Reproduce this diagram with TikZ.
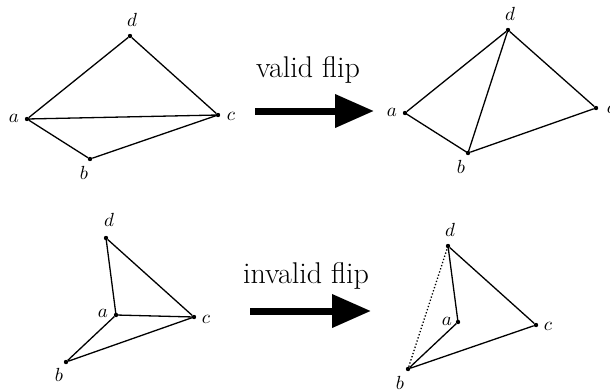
\documentclass[tikz,border=0pt]{standalone}
\usepackage{graphicx}
\usetikzlibrary{arrows.meta}
\newcommand{\vlab}[1]{\scalebox{1.9}{$#1$}}
\begin{document}
\begin{tikzpicture}[x=1pt,y=-1pt,
  dot/.style={circle,fill=black,inner sep=0pt,minimum size=4.4pt},
  lbl/.style={inner sep=0pt},
  edge/.style={line width=1.3pt,shorten >=-1pt,shorten <=-1pt},
  captext/.style={inner sep=0pt,font=\fontsize{30}{36}\selectfont},
  bigarrow/.style={line width=7pt,-{Triangle[length=39pt,width=32pt]}}]
\useasboundingbox (0,0) rectangle (610,389);
% top left
\node[dot] (a1) at (27,119) {};
\node[dot] (d1) at (130,36) {};
\node[dot] (c1) at (218,115) {};
\node[dot] (b1) at (90,159) {};
\draw[edge] (a1) -- (d1) -- (c1) -- (b1) -- (a1) -- (c1);
\node[lbl] (la1) at (14,118) {\vlab{a}};
\node[lbl] (ld1) at (132,20) {\vlab{d}};
\node[lbl] (lc1) at (231,116) {\vlab{c}};
\node[lbl] (lb1) at (84,173) {\vlab{b}};
% top right
\node[dot] (a2) at (405,113) {};
\node[dot] (d2) at (508,30) {};
\node[dot] (c2) at (596,108) {};
\node[dot] (b2) at (468,153) {};
\draw[edge] (a2) -- (d2) -- (c2) -- (b2) -- (a2);
\draw[edge] (b2) -- (d2);
\node[lbl] (la2) at (392,112) {\vlab{a}};
\node[lbl] (ld2) at (510,14) {\vlab{d}};
\node[lbl] (lc2) at (611,109) {\vlab{c}};
\node[lbl] (lb2) at (461,167) {\vlab{b}};
% top arrow
\coordinate (s1) at (255,111);
\coordinate (e1) at (374,111);
\draw[bigarrow] (s1) -- (e1);
\node[captext] (t1) at (308,70) {valid flip};
% bottom left
\node[dot] (d3) at (106,238) {};
\node[dot] (a3) at (116,315) {};
\node[dot] (c3) at (194,317) {};
\node[dot] (b3) at (66,362) {};
\draw[edge] (d3) -- (c3) -- (b3) -- (a3) -- (d3);
\draw[edge] (a3) -- (c3);
\node[lbl] (ld3) at (109,220) {\vlab{d}};
\node[lbl] (la3) at (103,313) {\vlab{a}};
\node[lbl] (lc3) at (206,319) {\vlab{c}};
\node[lbl] (lb3) at (59,375) {\vlab{b}};
% bottom right
\node[dot] (d4) at (448,246) {};
\node[dot] (a4) at (458,322) {};
\node[dot] (c4) at (536,325) {};
\node[dot] (b4) at (408,369) {};
\draw[edge] (d4) -- (c4) -- (b4) -- (a4) -- (d4);
\draw[line width=1.3pt,dotted] (b4) -- (d4);
\node[lbl] (ld4) at (450,230) {\vlab{d}};
\node[lbl] (la4) at (447,321) {\vlab{a}};
\node[lbl] (lc4) at (548,326) {\vlab{c}};
\node[lbl] (lb4) at (400,383) {\vlab{b}};
% bottom arrow
\coordinate (s2) at (250,311);
\coordinate (e2) at (371,311);
\draw[bigarrow] (s2) -- (e2);
\node[captext] (t2) at (306,276) {invalid flip};
\end{tikzpicture}
\end{document}
